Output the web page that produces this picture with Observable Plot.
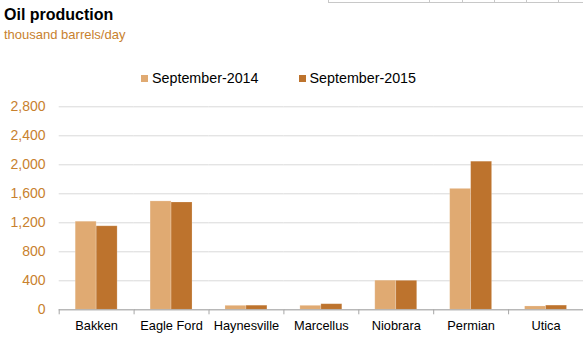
<!DOCTYPE html>
<html>
<head>
<meta charset="utf-8">
<script src="https://cdn.jsdelivr.net/npm/d3@7"></script>
<script src="https://cdn.jsdelivr.net/npm/@observablehq/plot@0.6"></script>
<style>
  html, body { margin: 0; padding: 0; background: #fff; }
  body { font-family: "Liberation Sans", Arial, sans-serif; }
  #wrap { position: relative; width: 583px; height: 353px; overflow: hidden; }
  #title { position: absolute; left: 4px; top: 6px; font-size: 16px; font-weight: bold; color: #000; white-space: nowrap; }
  #subtitle { position: absolute; left: 4px; top: 27px; font-size: 13px; color: #c8812e; white-space: nowrap; }
  #legend { position: absolute; left: 141px; top: 70px; font-size: 14.3px; color: #000; white-space: nowrap; display: flex; }
  .li { display: flex; align-items: center; }
  .sw { width: 7px; height: 7px; margin-right: 4px; }
  #frag { position: absolute; left: 328px; top: -1px; height: 3px; display: flex; border-bottom: 1px solid #c8c8c8; }
  #frag div { height: 3px; border-left: 1px solid #c8c8c8; box-sizing: border-box; }
  #chart { position: absolute; left: 0; top: 0; }
  #chart svg text { font-family: "Liberation Sans", Arial, sans-serif; }
</style>
</head>
<body>
<div id="wrap">
  <div id="frag"></div>
  <div id="chart"></div>
  <div id="title">Oil production</div>
  <div id="subtitle">thousand barrels/day</div>
  <div id="legend"></div>
</div>
<script>
const regions = ["Bakken", "Eagle Ford", "Haynesville", "Marcellus", "Niobrara", "Permian", "Utica"];
const series = ["September-2014", "September-2015"];
const sep2014 = [1215, 1495, 55, 55, 402, 1668, 46];
const sep2015 = [1152, 1480, 57, 77, 400, 2043, 58];
const yTicks = [0, 400, 800, 1200, 1600, 2000, 2400, 2800];
const colors = ["#e0aa72", "#bd732d"];

const data = [];
regions.forEach((r, i) => {
  data.push({region: r, series: series[0], value: sep2014[i]});
  data.push({region: r, series: series[1], value: sep2015[i]});
});

// legend
const legend = document.getElementById("legend");
series.forEach((s, i) => {
  const d = document.createElement("div");
  d.className = "li";
  d.style.marginRight = i === 0 ? "40px" : "0";
  d.innerHTML = `<span class="sw" style="background:${colors[i]}"></span><span>${s}</span>`;
  legend.appendChild(d);
});

// decorative table fragment at top right
const frag = document.getElementById("frag");
[101, 33, 32, 32, 32, 32, 30].forEach(w => {
  const c = document.createElement("div");
  c.style.width = w + "px";
  frag.appendChild(c);
});

const W = 583, H = 353, ML = 58.7, MT = 106.3, MB = 43.7;
const half = (W - ML) / regions.length / 2;

const chart = Plot.plot({
  width: W,
  height: H,
  marginLeft: ML,
  marginRight: 0,
  marginTop: MT,
  marginBottom: MB,
  style: {fontFamily: "'Liberation Sans', Arial, sans-serif", fontSize: "13px", background: "transparent", overflow: "visible"},
  fx: {domain: regions, padding: 0, round: false, label: null},
  x: {domain: series, paddingInner: 0, paddingOuter: 0.786, round: false, axis: null},
  y: {domain: [0, 2800], label: null},
  color: {domain: series, range: colors},
  marks: [
    Plot.gridY(yTicks, {stroke: "#d9d9d9", strokeOpacity: 1}),
    Plot.barY(data, {fx: "region", x: "series", y: "value", fill: "series", stroke: "#ffffff", strokeOpacity: 0.25, strokeWidth: 0.8}),
    Plot.ruleY([0], {stroke: "#a6a6a6", strokeWidth: 1}),
    Plot.axisY({ticks: yTicks, tickFormat: d3.format(","), tickSize: 0, tickPadding: 13.7, fill: "#c8812e", fontSize: 14, label: null}),
    Plot.axisFx({anchor: "bottom", tickSize: 5, tickFormat: () => "", dx: -half, stroke: "#a6a6a6", label: null}),
    Plot.axisFx({anchor: "bottom", tickSize: 0, tickPadding: 11.5, fontSize: 12.8, fill: "#000", label: null})
  ]
});
document.getElementById("chart").appendChild(chart);
</script>
</body>
</html>
